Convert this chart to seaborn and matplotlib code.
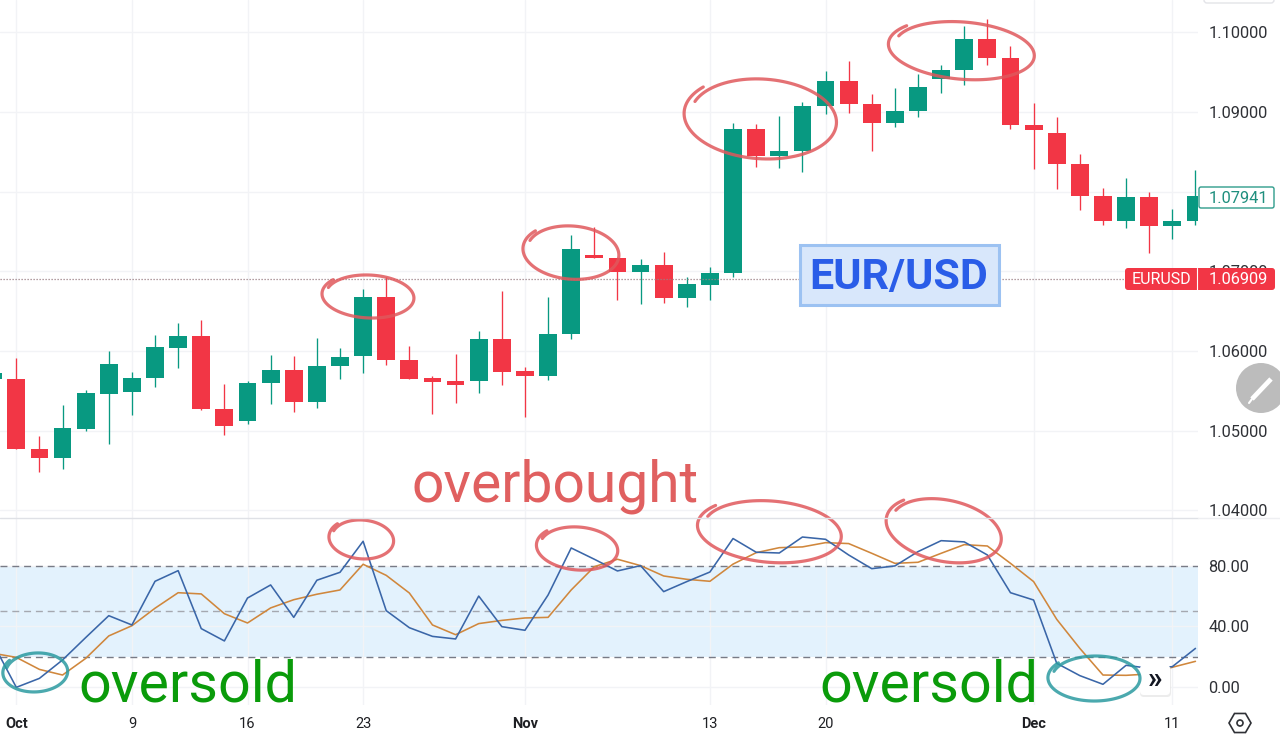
import numpy as np
import pandas as pd
import matplotlib
matplotlib.use('Agg')
import matplotlib.pyplot as plt
import seaborn as sns
from matplotlib.patches import Circle, FancyBboxPatch, Rectangle, RegularPolygon

# Daily EUR/USD candles, first one is Sep 29, last one is Dec 12
days = list(range(-1, 52))
opens = [1.05646, 1.05650, 1.04763, 1.04649, 1.05022, 1.05462, 1.05483, 1.05655, 1.06040, 1.06186,
         1.05274, 1.05123, 1.05596, 1.05763, 1.05357, 1.05810, 1.05935, 1.06681, 1.05889, 1.05655,
         1.05617, 1.05621, 1.06145, 1.05743, 1.05684, 1.06207, 1.07208, 1.07171, 1.06986, 1.07079,
         1.06660, 1.06823, 1.06982, 1.08783, 1.08452, 1.08511, 1.09076, 1.09390, 1.09101, 1.08867,
         1.09013, 1.09420, 1.09524, 1.09922, 1.09683, 1.08842, 1.08737, 1.08348, 1.07945, 1.07631,
         1.07929, 1.07573, 1.07631]
highs = [1.05726, 1.05914, 1.04930, 1.05315, 1.05508, 1.05994, 1.05738, 1.06195, 1.06346, 1.06388,
         1.05579, 1.05621, 1.05944, 1.05935, 1.06157, 1.06032, 1.06773, 1.06932, 1.06061, 1.05684,
         1.05960, 1.06245, 1.06748, 1.05801, 1.06672, 1.07455, 1.07556, 1.07171, 1.07150, 1.07246,
         1.06924, 1.07058, 1.08867, 1.08850, 1.08946, 1.09131, 1.09512, 1.09646, 1.09223, 1.09298,
         1.09482, 1.09587, 1.10077, 1.10165, 1.09830, 1.09118, 1.08938, 1.08473, 1.08042, 1.08172,
         1.08000, 1.07782, 1.08272]
lows = [1.05646, 1.04763, 1.04478, 1.04511, 1.04997, 1.04825, 1.05194, 1.05541, 1.05789, 1.05253,
        1.04947, 1.05085, 1.05328, 1.05227, 1.05278, 1.05646, 1.05717, 1.05826, 1.05646, 1.05207,
        1.05349, 1.05466, 1.05571, 1.05165, 1.05638, 1.06145, 1.07162, 1.06639, 1.06589, 1.06597,
        1.06555, 1.06639, 1.06924, 1.08314, 1.08293, 1.08243, 1.08972, 1.08992, 1.08515, 1.08817,
        1.08942, 1.09240, 1.09336, 1.09596, 1.08787, 1.08280, 1.08033, 1.07770, 1.07581, 1.07543,
        1.07233, 1.07409, 1.07581]
closes = [1.05726, 1.04763, 1.04649, 1.05026, 1.05466, 1.05839, 1.05659, 1.06044, 1.06186, 1.05269,
          1.05060, 1.05600, 1.05763, 1.05357, 1.05814, 1.05927, 1.06681, 1.05885, 1.05646, 1.05609,
          1.05571, 1.06145, 1.05738, 1.05684, 1.06212, 1.07275, 1.07162, 1.06986, 1.07079, 1.06660,
          1.06836, 1.06982, 1.08783, 1.08452, 1.08515, 1.09080, 1.09390, 1.09101, 1.08867, 1.09013,
          1.09315, 1.09524, 1.09922, 1.09679, 1.08837, 1.08779, 1.08348, 1.07945, 1.07631, 1.07929,
          1.07573, 1.07636, 1.07941]

# Stochastic %K and %D
stoch_k = [28.7, 0, 5.9, 18, 32.7, 47.1, 41, 69.7, 76.7, 38.6, 30.5, 58.7, 67.3, 46, 70.4, 75.6, 96,
           50.4, 39.2, 33.5, 31.8, 60, 39.9, 37.5, 60.7, 91.6, 84.2, 76.5, 80, 62.9, 69.5, 75.8, 97.8,
           88.8, 88.3, 98.8, 97.3, 87, 78, 79.8, 89.2, 96.4, 95.6, 87, 62.2, 57.4, 15.8, 7.7, 2, 14.5,
           12.5, 13.6, 25.6]
stoch_d = [22.4, 19.7, 11.8, 8.1, 19, 33.8, 40.5, 52, 62.2, 61.4, 48.4, 42.3, 52.2, 57.6, 61.2, 64,
           80.9, 73.6, 62, 41, 34.6, 41.9, 44, 45.6, 46, 64, 79.3, 84.2, 80, 73.2, 71, 69.7, 81, 88.5,
           91.8, 92.3, 95.1, 94.5, 88.1, 81.5, 82.2, 88.1, 93.8, 92.9, 81.5, 69.5, 44.7, 25.6, 8.1, 7.9,
           8.8, 13.2, 17.1]

price_ticks = [1.04, 1.05, 1.06, 1.07, 1.08, 1.09, 1.10]
# 1.08000 sits behind the last close tag in the reference
price_labels = ['1.04000', '1.05000', '1.06000', '1.07000', '', '1.09000', '1.10000']
stoch_ticks = [0, 40, 80]
date_ticks = [0, 5, 10, 15, 22, 30, 35, 44, 50]
date_labels = ['Oct', '9', '16', '23', 'Nov', '13', '20', 'Dec', '11']
bold_labels = ['Oct', 'Nov', 'Dec']
last_close = 1.07941
last_price = 1.06909

# hand drawn rings: centre x, centre y, radius x, radius y, tilt (picture pixels)
red_rings = [(369, 296, 44, 21, 3), (572, 252, 46, 26, 5), (762, 118, 73, 39, 4), (963, 50, 70, 28, 5),
             (362, 539, 31, 19, 5), (578, 548, 39, 21, 5), (771, 531, 69, 30, 5), (945, 530, 56, 30, 12)]
teal_rings = [(36, 672, 31, 19, -3), (1095, 678, 44, 22, 0)]

GREEN = '#089981'
RED = '#f23645'
GRID = '#f2f3f6'

sns.set_theme(style="white")
plt.rcParams['font.family'] = ['Roboto', 'DejaVu Sans']

fig = plt.figure(figsize=(12.8, 7.37), dpi=100)
W, H = 1280, 737
ax = fig.add_axes([0, 1 - 518 / H, 1198 / W, 518 / H])
ax2 = fig.add_axes([0, 1 - 705 / H, 1198 / W, 187 / H])
over = fig.add_axes([0, 0, 1, 1], zorder=10)
over.set_xlim(0, W)
over.set_ylim(H, 0)
over.axis('off')

df = pd.DataFrame({'day': days, 'open': opens, 'high': highs, 'low': lows, 'close': closes,
                   'k': stoch_k, 'd': stoch_d})
df['color'] = np.where(df['close'] >= df['open'], GREEN, RED)
xlim = (-0.705, 51.11)

# Candles
ax.vlines(df['day'], df['low'], df['high'], colors=df['color'], lw=0.95, zorder=3)
ax.bar(df['day'], (df['close'] - df['open']).abs(), bottom=df[['open', 'close']].min(axis=1),
       width=0.77, color=df['color'], linewidth=0, zorder=4)
ax.axhline(last_price, color='#9a7f84', lw=0.9, ls=(0, (1, 1.4)), zorder=5)
ax.set_xlim(xlim)
ax.set_ylim(1.03901, 1.10408)
ax.set_yticks(price_ticks)
ax.set_yticklabels(price_labels)

# Stochastic panel
ax2.axhspan(20, 80, color='#e3f2fd', lw=0, zorder=0)
for lvl, col in [(80, '#787b86'), (50, '#a5a8b0'), (20, '#787b86')]:
    ax2.axhline(lvl, color=col, lw=1, ls=(0, (5, 3.5)), zorder=2)
sns.lineplot(data=df, x='day', y='k', color='#3a66a8', lw=1.15, ax=ax2, zorder=4, errorbar=None)
sns.lineplot(data=df, x='day', y='d', color='#d0873c', lw=1.15, ax=ax2, zorder=3, errorbar=None)
ax2.set_xlim(xlim)
ax2.set_ylim(-11.6, 111.3)
ax2.set_yticks(stoch_ticks)
ax2.set_yticklabels([f'{v:.2f}' for v in stoch_ticks])
ax2.set_xticks(date_ticks)
ax2.set_xticklabels(date_labels)
ax2.set_xlabel('')
ax2.set_ylabel('')
for lab in ax2.get_xticklabels():
    if lab.get_text() in bold_labels:
        lab.set_fontweight('bold')

for a in (ax, ax2):
    for s in a.spines.values():
        s.set_visible(False)
    a.set_axisbelow(True)
    a.grid(True, color=GRID, lw=1)
    a.yaxis.tick_right()
    a.tick_params(axis='y', length=0, pad=7.5, labelsize=11.8, labelcolor='#2f3136')
    a.patch.set_alpha(0)
ax.set_xticks(date_ticks)
ax.tick_params(axis='x', length=0, labelbottom=False)
ax2.tick_params(axis='x', length=0, pad=9, labelsize=10.5, labelcolor='#1f2024')


def ring(cx, cy, rx, ry, tilt, color, lw=2.3):
    # one pen stroke, goes round once and overshoots where it started
    t = np.linspace(0, 2.12 * np.pi, 120) + np.pi * 1.1
    grow = 1 + 0.1 * (t - t[0]) / (t[-1] - t[0]) - 0.02
    x = rx * grow * np.cos(t)
    y = ry * grow * np.sin(t)
    a = np.radians(tilt)
    over.plot(cx + x * np.cos(a) - y * np.sin(a), cy + x * np.sin(a) + y * np.cos(a),
              color=color, lw=lw, solid_capstyle='round', alpha=0.85)


for r in red_rings:
    ring(*r, '#e0585c')
for r in teal_rings:
    ring(*r, '#2b9aa0')

# Separator between panels
over.plot([0, 1198], [518, 518], color='#dfe1e6', lw=1)
over.plot([1198, 1280], [518, 518], color='#eeeff2', lw=1)

# Hand written labels
over.text(412, 501, 'overbought', fontsize=41, color='#e06060', ha='left', va='baseline')
over.text(78, 701, 'oversold', fontsize=41.3, color='#0a9b0a', ha='left', va='baseline')
over.text(819, 701, 'oversold', fontsize=41.3, color='#0a9b0a', ha='left', va='baseline')

# EUR/USD box
over.add_patch(Rectangle((800, 245), 199, 60, fc='#d8e7fb', ec='#9cc2f2', lw=2.2))
over.text(899, 277, 'EUR/USD', fontsize=31, fontweight='bold', color='#2a5de8', ha='center', va='center')

# Price tags on the axis
over.add_patch(FancyBboxPatch((1199, 187), 75, 21, boxstyle='round,pad=0,rounding_size=2',
                              fc='white', ec='#2f9c8c', lw=1))
over.text(1238, 198, f'{last_close:.5f}', fontsize=11.8, color='#1f8f7e', ha='center', va='center')
over.add_patch(FancyBboxPatch((1125, 268), 150, 22, boxstyle='round,pad=0,rounding_size=3',
                              fc=RED, ec='none'))
over.plot([1197, 1197], [268, 290], color='white', lw=0.8)
over.text(1161, 279.5, 'EURUSD', fontsize=11.5, color='white', ha='center', va='center')
over.text(1238, 279.5, f'{last_price:.5f}', fontsize=11.8, color='white', ha='center', va='center')

# Chart buttons
over.add_patch(FancyBboxPatch((1204, -10), 70, 13, boxstyle='round,pad=0,rounding_size=3',
                              fc='white', ec='#e3e4e8', lw=1))
over.add_patch(Circle((1261, 388), 25, fc='#bcbcbc', ec='none'))
over.plot([1252, 1271], [399, 379], color='white', lw=3.4, solid_capstyle='butt')
over.plot([1249, 1252], [403, 399], color='white', lw=1.5)
over.add_patch(FancyBboxPatch((1140, 666), 31, 31, boxstyle='round,pad=0,rounding_size=4',
                              fc='#e4e4e4', ec='none', alpha=0.7))
over.add_patch(FancyBboxPatch((1140, 665), 30, 30, boxstyle='round,pad=0,rounding_size=4',
                              fc='white', ec='none'))
over.text(1155, 680, '»', fontsize=21, fontweight='bold', color='#131722', ha='center', va='center')
over.add_patch(RegularPolygon((1240, 723), 6, radius=11, orientation=np.pi / 6,
                              fc='white', ec='#2f3136', lw=1.2))
over.add_patch(Circle((1240, 723), 3, fc='white', ec='#2f3136', lw=1.2))

plt.savefig('out.png', dpi=100)
plt.close()
